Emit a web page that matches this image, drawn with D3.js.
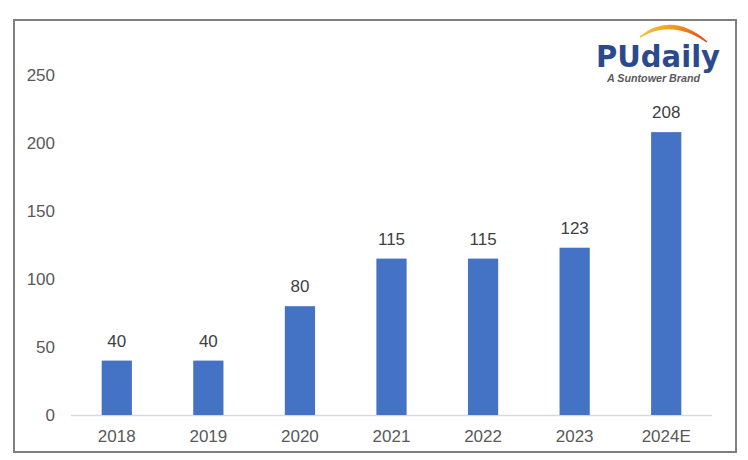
<!DOCTYPE html>
<html><head><meta charset="utf-8">
<script src="https://cdn.jsdelivr.net/npm/d3@7"></script>
<style>body{margin:0;background:#fff}svg{display:block}</style>
</head><body>
<script>
const categories = ["2018","2019","2020","2021","2022","2023","2024E"];
const values = [40,40,80,115,115,123,208];
const yTicks = [0,50,100,150,200,250];

const W=748,H=460;
const svg=d3.select("body").append("svg").attr("width",W).attr("height",H);
svg.append("rect").attr("x",14).attr("y",20).attr("width",722).attr("height",432)
  .attr("fill","#fff").attr("stroke","#7f7f7f").attr("stroke-width",2);

const x=d3.scaleBand().domain(categories).range([71,712]).paddingInner(0.67).paddingOuter(0.335);
const y=d3.scaleLinear().domain([0,250]).range([415,75]);

const font="Liberation Sans, Arial, sans-serif";
svg.append("g").selectAll("text").data(yTicks).join("text")
  .attr("x",55).attr("y",d=>y(d)).attr("dy","0.36em").attr("text-anchor","end")
  .attr("font-family",font).attr("font-size",17).attr("fill","#595959").text(d=>d);

svg.append("line").attr("x1",71).attr("x2",712).attr("y1",y(0)+0.5).attr("y2",y(0)+0.5)
  .attr("stroke","#d9d9d9").attr("stroke-width",1.5);

svg.append("g").selectAll("rect").data(values).join("rect")
  .attr("x",(d,i)=>x(categories[i])).attr("width",x.bandwidth())
  .attr("y",d=>y(d)).attr("height",d=>y(0)-y(d)).attr("fill","#4472c4");

svg.append("g").selectAll("text").data(values).join("text")
  .attr("x",(d,i)=>x(categories[i])+x.bandwidth()/2).attr("y",d=>y(d)-14)
  .attr("text-anchor","middle").attr("font-family",font).attr("font-size",17).attr("fill","#404040").text(d=>d);

svg.append("g").selectAll("text").data(categories).join("text")
  .attr("x",d=>x(d)+x.bandwidth()/2).attr("y",442)
  .attr("text-anchor","middle").attr("font-family",font).attr("font-size",17).attr("fill","#595959").text(d=>d);

// logo
const defs=svg.append("defs");
const gr=defs.append("linearGradient").attr("id","arc");
gr.append("stop").attr("offset","0").attr("stop-color","#f8c23a");
gr.append("stop").attr("offset","0.5").attr("stop-color","#f39a1e");
gr.append("stop").attr("offset","1").attr("stop-color","#e6461c");
svg.append("path").attr("d","M640,37 Q672,12 707,42 Q672,18 640,37 Z")
  .attr("fill","url(#arc)").attr("stroke","url(#arc)").attr("stroke-width",1.5);
svg.append("text").attr("x",596).attr("y",67).attr("font-family","DejaVu Sans, Arial, sans-serif")
  .attr("font-weight","bold").attr("font-size",30).attr("fill","#2b4a8e")
  .attr("textLength",124).attr("lengthAdjust","spacingAndGlyphs").text("PUdaily");
svg.append("text").attr("x",607).attr("y",82).attr("font-family",font).attr("font-style","italic")
  .attr("font-weight","bold").attr("font-size",10).attr("fill","#5a5a5a")
  .attr("textLength",93).attr("lengthAdjust","spacingAndGlyphs").text("A Suntower Brand");
</script>
</body></html>
